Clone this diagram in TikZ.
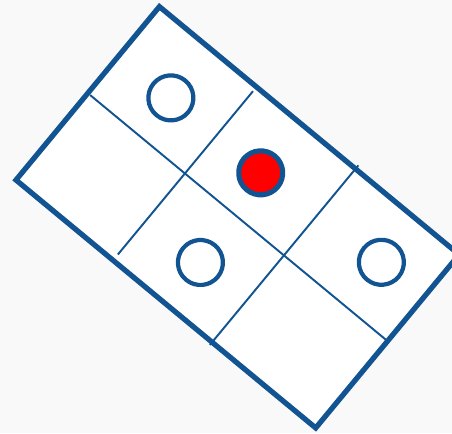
\documentclass[tikz,border=0pt]{standalone}
\usepackage{xcolor}
\usepackage{tikz}
\usetikzlibrary{calc}
\definecolor{gridblue}{RGB}{18,84,146}
\definecolor{hitred}{RGB}{255,0,0}
\definecolor{paper}{RGB}{249,249,249}

\begin{document}
\begin{tikzpicture}[
    x=0.02cm, y=0.02cm,
    frame/.style={draw=gridblue, line width=3pt, fill=white, line join=miter},
    divider/.style={draw=gridblue, line width=1.1pt},
    token/.style={draw=gridblue, line width=2.4pt, fill=white},
    hit/.style={draw=gridblue, line width=2.9pt, fill=hitred}
]
% page, clipped like the slide
\clip (0,0) rectangle (452,433);
\fill[paper] (0,0) rectangle (452,433);

% board: 3 x 2 cells, turned
\begin{scope}[shift={(16,253)}, rotate=-39.6]
  \coordinate (corner) at (0,0);
  \draw[frame] (corner) rectangle (389,225);
  \draw[divider] (3,112.7) -- (389,112.7);
  \draw[divider] (126,7.5) -- (126,219.5);
  \draw[divider] (254.5,-3.5) -- (254.5,229.5);
  % pieces
  \coordinate (cA) at (67,162);
  \coordinate (cB) at (184,161.5);
  \coordinate (cC) at (194.7,54);
  \coordinate (cD) at (334,169.5);
  \draw[token] (cA) circle (22.5);
  \draw[hit] (cB) circle (22);
  \draw[token] (cC) circle (22.5);
  \draw[token] (cD) circle (22.5);
\end{scope}
\end{tikzpicture}
\end{document}
